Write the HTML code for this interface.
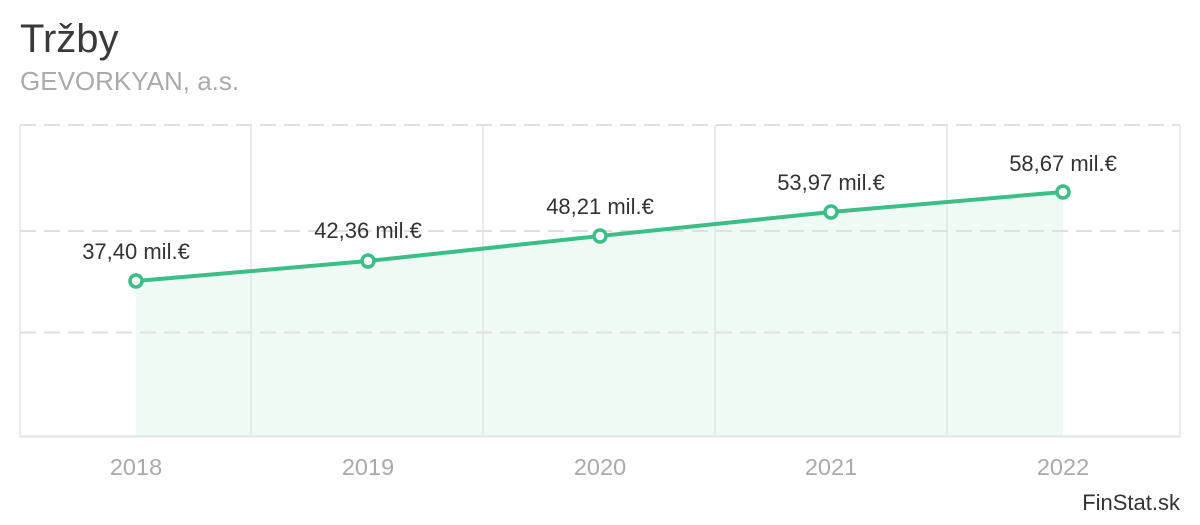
<!DOCTYPE html>
<html><head><meta charset="utf-8"><style>
body{margin:0;background:#fff;width:1200px;height:520px;overflow:hidden;font-family:"Liberation Sans",sans-serif}
</style></head><body>
<svg width="1200" height="520" xmlns="http://www.w3.org/2000/svg" font-family="Liberation Sans, sans-serif">
<text x="20" y="52" font-size="40" fill="#3a3a3a">Tržby</text>
<text x="20" y="90" font-size="26" fill="#aaa">GEVORKYAN, a.s.</text>
<polygon points="136,281 368,261 600,236 831,212 1063,192 1063,436 136,436" fill="#effaf5"/>
<g stroke="#e2e6e6" stroke-width="1.5" fill="none">
<line x1="20" y1="125" x2="20" y2="437"/>
<line x1="1180" y1="125" x2="1180" y2="437"/>
<line x1="251" y1="125" x2="251" y2="437"/>
<line x1="483" y1="125" x2="483" y2="437"/>
<line x1="715" y1="125" x2="715" y2="437"/>
<line x1="947" y1="125" x2="947" y2="437"/>
<line x1="20" y1="436.5" x2="1180" y2="436.5" stroke-width="2"/>
</g>
<g stroke="#e0e0e0" stroke-width="2" stroke-dasharray="16,8">
<line x1="20" y1="125" x2="1180" y2="125"/>
<line x1="20" y1="231" x2="1180" y2="231"/>
<line x1="20" y1="332.5" x2="1180" y2="332.5"/>
</g>
<polyline points="136,281 368,261 600,236 831,212 1063,192" fill="none" stroke="#3cbf87" stroke-width="4"/>
<g fill="#fff" stroke="#3cbf87" stroke-width="3.5">
<circle cx="136" cy="281" r="6"/><circle cx="368" cy="261" r="6"/><circle cx="600" cy="236" r="6"/><circle cx="831" cy="212" r="6"/><circle cx="1063" cy="192" r="6"/>
</g>
<g font-size="22" fill="#333" text-anchor="middle">
<text x="136" y="259">37,40 mil.€</text>
<text x="368" y="238">42,36 mil.€</text>
<text x="600" y="214">48,21 mil.€</text>
<text x="831" y="190">53,97 mil.€</text>
<text x="1063" y="171">58,67 mil.€</text>
</g>
<g font-size="23.5" fill="#aaa" text-anchor="middle">
<text x="136" y="475">2018</text><text x="368" y="475">2019</text><text x="600" y="475">2020</text><text x="831" y="475">2021</text><text x="1063" y="475">2022</text>
</g>
<text x="1180" y="510" font-size="22" fill="#333" text-anchor="end">FinStat.sk</text>
</svg>
</body></html>
